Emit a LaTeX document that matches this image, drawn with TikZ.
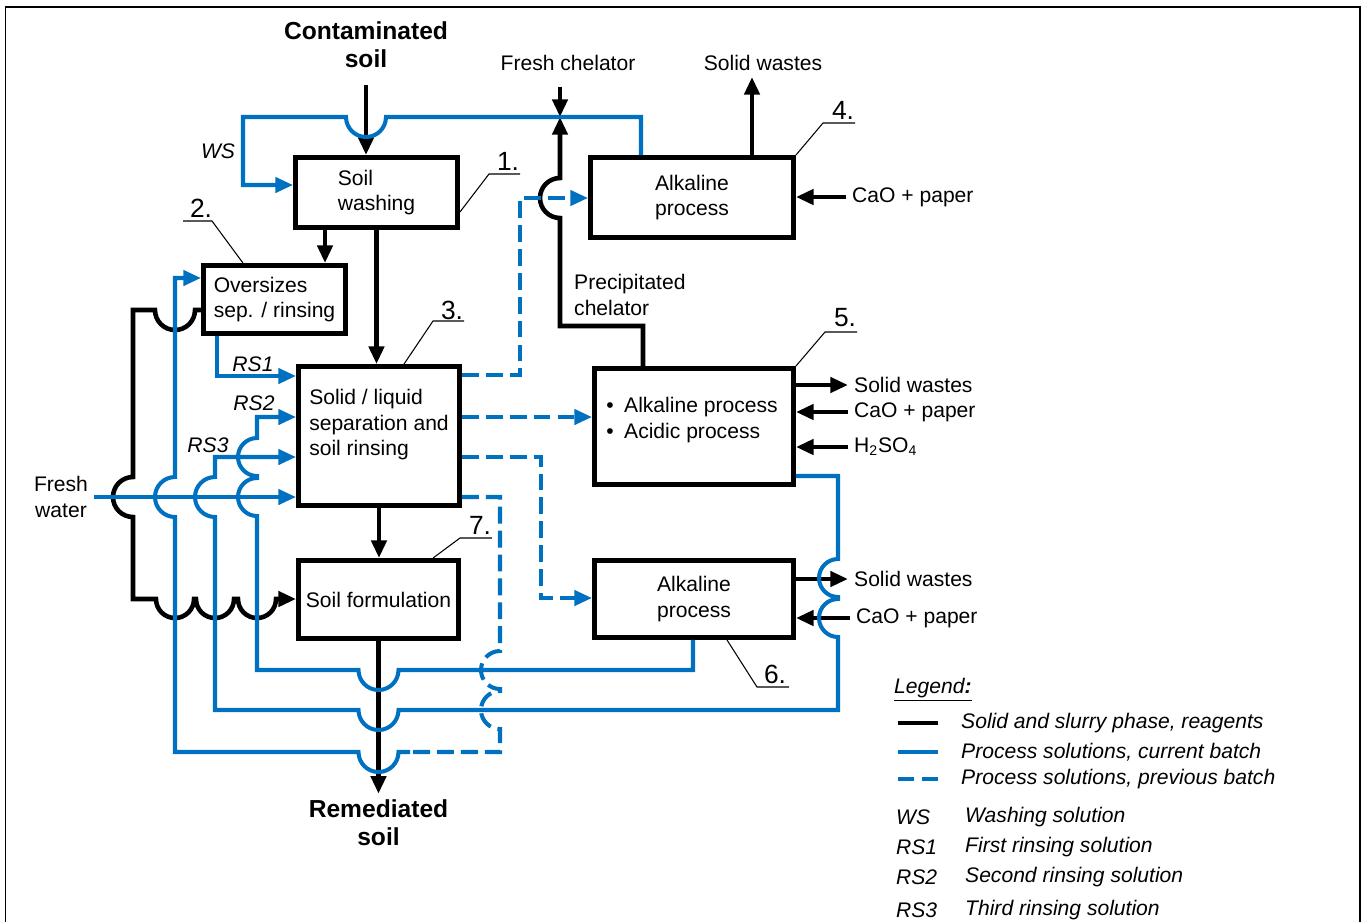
\documentclass[tikz,border=0pt]{standalone}
\usepackage{fontspec}
\setmainfont{Liberation Sans}
\usetikzlibrary{arrows.meta}
\definecolor{procblue}{RGB}{0,112,192}
\tikzset{
  every picture/.style={
    line join=miter,
    >={Triangle[length=10pt, width=8.5pt]}
  },
  unit/.style={
    draw, line width=2.8pt, inner sep=0pt, align=left,
    font=\fontsize{12}{14.5}\selectfont
  },
  txt/.style={
    align=left, font=\fontsize{12}{14.5}\selectfont
  },
  itxt/.style={
    txt, font=\fontsize{12}{14.5}\selectfont\itshape
  },
  big/.style={
    align=center, font=\fontsize{14}{16}\selectfont\bfseries
  },
  num/.style={
    inner sep=0pt, font=\fontsize{15}{16}\selectfont
  },
  slurry/.style={line width=2.6pt},
  liquor/.style={line width=2.3pt, draw=procblue},
  old liquor/.style={liquor, dash pattern=on 9.6pt off 4pt},
  leader/.style={line width=0.6pt}
}
\begin{document}
\begin{tikzpicture}[x=0.02cm, y=-0.02cm]
  \useasboundingbox (0,0) rectangle (1367,921);
  \draw[line width=1.1pt] (5.5,940) -- (5.5,7) -- (1360,7) -- (1360,940);

  \node[unit, minimum width=3.24cm, minimum height=1.40cm] (u1) at (376.5,192.5) {Soil\\washing};
  \node[unit, minimum width=2.84cm, minimum height=1.36cm] (u2) at (274.5,299.5) {Oversizes\\sep. / rinsing};
  \node[unit, minimum width=3.22cm, minimum height=2.78cm] (u3) at (379,436) {};
  \node[txt] (u3t) at (379,425) {Solid / liquid\\separation and\\soil rinsing};
  \node[unit, minimum width=4.06cm, minimum height=1.60cm] (u4) at (692,197.5) {Alkaline\\process};
  \node[unit, minimum width=3.98cm, minimum height=2.32cm] (u5) at (694,426.5) {};
  \node[txt] (u5t) at (692,420) {\textbullet\hspace{6pt}Alkaline process\\\textbullet\hspace{6pt}Acidic process};
  \node[unit, minimum width=3.98cm, minimum height=1.54cm] (u6) at (694,599) {Alkaline\\process};
  \node[unit, minimum width=3.20cm, minimum height=1.56cm] (u7) at (378.5,599.5) {Soil formulation};

  \node[num] (n1) at (508,161) {1.};
  \draw[leader] (u1.east |- 0,212) -- (489,174) -- (520,174);
  \node[num] (n2) at (201,208) {2.};
  \draw[leader] (u2.north -| 243,0) -- (212,221) -- (183,221);
  \node[num] (n3) at (452,310) {3.};
  \draw[leader] (u3.north -| 404,0) -- (433,321) -- (464,321);
  \node[num] (n4) at (843,110) {4.};
  \draw[leader] (u4.north east) -- (823,123) -- (855,123);
  \node[num] (n5) at (845,318) {5.};
  \draw[leader] (u5.north east) -- (825,332) -- (857,332);
  \node[num] (n6) at (775,674) {6.};
  \draw[leader] (u6.south -| 727,0) -- (757,687) -- (789,687);
  \node[num] (n7) at (480,525) {7.};
  \draw[leader] (u7.north -| 433,0) -- (460,538) -- (492,538);

  \node[big] (cs) at (366,45) {Contaminated\\soil};
  \node[big] (rs) at (378.5,823) {Remediated\\soil};
  \coordinate (csin) at (366,85);
  \draw[slurry,->] (csin) -- (u1.north -| csin);
  \draw[slurry,->] (u1.south -| 325,0) -- (u2.north -| 325,0);
  \draw[slurry,->] (u1.south) -- (u3.north -| u1.south);
  \draw[slurry,->] (u3.south) -- (u7.north -| u3.south);
  \draw[slurry,->] (u7.south) -- (rs.north -| u7.south);

  \node[txt] (fc) at (568,63) {Fresh chelator};
  \node[txt, anchor=west] (pc) at (568,295) {Precipitated\\chelator};
  \coordinate (chel) at (560,117);
  \coordinate (fcin) at (560,87);
  \draw[slurry,->] (fcin) -- (chel);
  \draw[slurry,->] (u5.north -| 643,0) -- (643,326) -- (560,326) -- (560,218)
    arc[start angle=90, end angle=270, radius=20] -- (chel);

  \node[txt] (sw1) at (763,63) {Solid wastes};
  \node[txt, anchor=west] (cao1) at (846,197) {CaO + paper};
  \draw[slurry,->] (u4.north -| 752,0) -- (sw1.south -| 752,0);
  \draw[slurry,->] (cao1.west) -- (u4.east |- cao1.west);

  \node[txt, anchor=west] (sw2) at (848,385) {Solid wastes};
  \node[txt, anchor=west] (cao2) at (848,412) {CaO + paper};
  \node[txt, anchor=west] (acid) at (848,447) {H\textsubscript{2}SO\textsubscript{4}};
  \draw[slurry,->] (u5.east |- sw2.west) -- (sw2.west);
  \draw[slurry,->] (cao2.west) -- (u5.east |- cao2.west);
  \draw[slurry,->] (acid.west) -- (u5.east |- acid.west);

  \node[txt, anchor=west] (sw3) at (848,579) {Solid wastes};
  \node[txt, anchor=west] (cao3) at (850,618) {CaO + paper};
  \draw[slurry,->] (u6.east |- sw3.west) -- (sw3.west);
  \draw[slurry,->] (cao3.west) -- (u6.east |- cao3.west);

  \draw[slurry,->] (u2.west |- 0,310) -- (195,310)
    arc[start angle=0, end angle=180, radius=20] -- (133,310) -- (133,477)
    arc[start angle=270, end angle=90, radius=20] -- (133,599) -- (156,599)
    arc[start angle=180, end angle=0, radius=19] -- (196,599)
    arc[start angle=180, end angle=0, radius=19] -- (238,599)
    arc[start angle=180, end angle=0, radius=19] -- (u7.west |- 0,599);

  \node[itxt] (ws) at (218,151) {WS};
  \draw[liquor,->] (u4.north -| 641,0) -- (641,117) -- (386,117)
    arc[start angle=0, end angle=180, radius=20] -- (243,117) -- (243,185)
    -- (u1.west |- 0,185);

  \node[txt, align=center] (fw) at (61,497) {Fresh\\water};
  \draw[liquor,->] (fw.east) -- (u3.west |- fw.east);

  \node[itxt] (rs1) at (253,364) {RS1};
  \node[itxt] (rs2) at (254,403) {RS2};
  \node[itxt] (rs3) at (208,445) {RS3};
  \draw[liquor,->] (u2.south -| 217,0) -- (217,376) -- (u3.west |- 0,376);
  \draw[liquor,->] (u6.south -| 693,0) -- (693,670) -- (398.5,670)
    arc[start angle=0, end angle=180, radius=20] -- (257,670) -- (257,516)
    arc[start angle=90, end angle=270, radius=19] -- (257,476)
    arc[start angle=90, end angle=270, radius=19] -- (257,417) -- (u3.west |- 0,417);
  \draw[liquor,->] (u5.east |- 0,476) -- (838,476) -- (838,559)
    arc[start angle=270, end angle=90, radius=19] -- (838,599)
    arc[start angle=270, end angle=90, radius=19] -- (838,710) -- (398.5,710)
    arc[start angle=0, end angle=180, radius=20] -- (215,710) -- (215,517)
    arc[start angle=90, end angle=270, radius=20] -- (215,457) -- (u3.west |- 0,457);

  \coordinate (swap) at (410,752);
  \draw[old liquor] (u3.east |- 0,497) -- (500,497) -- (500,651)
    arc[start angle=270, end angle=90, radius=19] -- (500,691)
    arc[start angle=270, end angle=90, radius=19] -- (500,752) -- (swap);
  \draw[liquor,->] (swap) -- (398.5,752)
    arc[start angle=0, end angle=180, radius=20] -- (175,752) -- (175,517)
    arc[start angle=90, end angle=270, radius=20] -- (175,278) -- (u2.west |- 0,278);
  \draw[old liquor,->] (u3.east |- 0,375) -- (520,375) -- (520,198) -- (u4.west |- 0,198);
  \draw[old liquor,->] (u3.east |- 0,417) -- (u5.west |- 0,417);
  \draw[old liquor,->] (u3.east |- 0,457) -- (541,457) -- (541,598) -- (u6.west |- 0,598);

  \node[itxt, anchor=west] (leg) at (888,690) {\underline{Legend\textbf{:}}};
  \node[itxt, anchor=west] (l1) at (955,723) {Solid and slurry phase, reagents};
  \node[itxt, anchor=west] (l2) at (955,752) {Process solutions, current batch};
  \node[itxt, anchor=west] (l3) at (955,779) {Process solutions, previous batch};
  \draw[slurry] (898,723) -- (938,723);
  \draw[liquor] (898,752) -- (938,752);
  \draw[old liquor, dash pattern=on 9pt off 4.5pt] (898,779) -- (938,779);
  \node[itxt, anchor=west] (k4) at (890,817) {WS};
  \node[itxt, anchor=west] (l4) at (959,817) {Washing solution};
  \node[itxt, anchor=west] (k5) at (890,847) {RS1};
  \node[itxt, anchor=west] (l5) at (959,847) {First rinsing solution};
  \node[itxt, anchor=west] (k6) at (890,877) {RS2};
  \node[itxt, anchor=west] (l6) at (959,877) {Second rinsing solution};
  \node[itxt, anchor=west] (k7) at (890,910) {RS3};
  \node[itxt, anchor=west] (l7) at (959,910) {Third rinsing solution};
\end{tikzpicture}
\end{document}
